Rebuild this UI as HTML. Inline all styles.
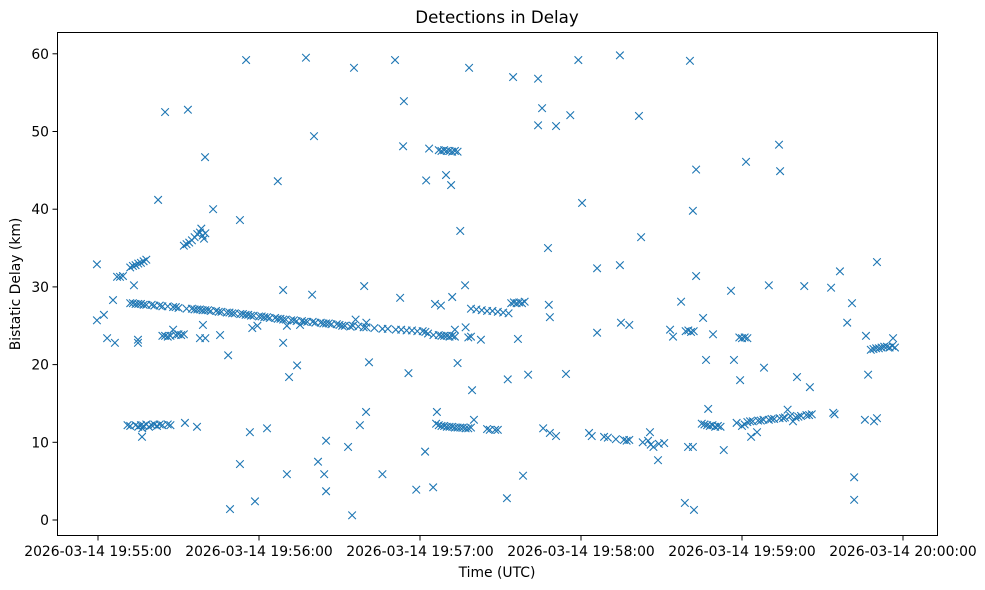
<!DOCTYPE html>
<html><head><meta charset="utf-8"><style>
body{margin:0;background:#fff;}
svg{display:block;font-family:"DejaVu Sans","Liberation Sans",sans-serif;}
</style></head><body>
<svg id="chart" width="985" height="590" xmlns="http://www.w3.org/2000/svg">
<rect x="0" y="0" width="985" height="590" fill="#fff"/>
<text x="497" y="23" text-anchor="middle" font-size="16.7" fill="#000">Detections in Delay</text>
<g id="marks"></g>
<g id="axes"></g>
<rect x="57.5" y="32.5" width="880" height="503" fill="none" stroke="#000" stroke-width="1"/>
<text x="497" y="577" text-anchor="middle" font-size="13.9">Time (UTC)</text>
<text transform="translate(20,284) rotate(-90)" text-anchor="middle" font-size="13.9">Bistatic Delay (km)</text>
</svg>
<script>
// seconds after 2026-03-14 19:55:00
const times = [-0.4,-0.4,2.2,3.4,5.6,6.3,7.1,8.2,9.3,13.4,14.9,14.9,16.4,22.4,25,33.5,32.4,36.9,38,40,39.1,39.9,42.9,45.5,48.5,49.2,52.9,52.9,55.2,56.6,57.5,59.4,58.5,63,67,69,69,70.4,70.4,71.2,74.2,75.3,77.5,79.8,80.5,82,84.3,85,85,93.2,94.7,95.4,97.6,99.2,99.9,101,106,110.7,112.6,114,113.7,115.7,118.6,121.9,122.3,123.4,124.9,125.6,126.3,127.8,129.7,131.6,132,134,135,136.8,138.3,139.4,140.1,142.7,152.4,152.7,154.7,156.5,158.4,160.3,164,164,165.5,165.9,167.7,168.4,168,168.4,170.7,170.7,174.4,176,179,180.4,183,186,186,188.6,194.5,194.5,194.9,198,201.6,202.4,205.7,208.7,213.2,214.3,217.3,218.7,220.6,221.7,222.1,222.9,222.9,219.9,221.7,225.5,226.6,227.4,229.2,233.2,235.9,237,239.3,241.5,243.4,245.6,248.2,250,253.8,254.2,255.3,260.5,263.2,265.3,273.2,276.5,279.2,281,281.8,281.8,286.2,287,285.8,290.3,290.3,289.2,296.3,
12,13,14,15,16,17,18,20,21,23,24,26,28,29,30,33,35,36,37,38,39,40,41,42,44,45,46,48,49,50,51,53,54,55,56,57,58,60,61,62,63,64,66,67,68,69,70,72,73,74,76,77,78,80,81,83,84,85,86,87,89,90,91,92,94,95,97,99,100,103,106,108,111,113,115,117,119,121,122,96,100,
139,141,143,145,147,149,151,153,154,155,156,157,158,159,133,137,
11,12,14,15,16,17,18,19,20,21,22,23,24,26,27,16.5,
12,13,14,15,16,17,18,
32,33,34,35,36,37,38,39,38.5,39.5,40,
24,25,26,27,29,30,31,32,28,
127,128,129,130,131,132,133,134,
126,127,128,129,130,131,132,133,134,135,136,137,138,139,145,146,148,149,
123,125,127,128,129,130,131,132,133,138,139,
184,190,193,196,197,198,203,205,206,207,209,211,
219,220,221,222,
225,226,227,228,229,230,231,232,238,240,241,
239,240,241,242,
242,243,244,246,247,248,250,251,252,254,256,257,258,259,260,261,262,264,265,266,274,274.5,
288,289,290,291,292,293,294,295,296,297];
const delays = [32.9,25.7,26.4,23.4,28.3,22.8,31.3,31.3,31.4,30.2,23.2,22.8,10.7,41.2,52.5,52.8,12.5,12,23.4,23.4,25.1,46.7,40,23.8,21.2,1.4,38.6,7.2,59.2,11.3,24.7,25,2.4,11.8,43.6,29.6,22.8,25,5.9,18.4,19.9,25.1,59.5,29,49.4,7.5,5.9,10.2,3.7,9.4,0.6,58.2,12.2,30.1,13.9,20.3,5.9,59.2,28.6,53.9,48.1,18.9,3.9,8.8,43.7,47.8,4.2,27.8,13.9,27.6,44.4,43.1,28.7,20.2,37.2,30.2,58.2,16.7,12.9,23.2,2.8,18.1,57,23.3,5.7,18.7,50.8,56.8,53,11.8,35,26.1,27.7,11.2,10.8,50.7,18.8,52.1,59.2,40.8,11.2,32.4,24.1,10.7,32.8,59.8,25.4,25.1,52,36.4,11.3,7.7,24.5,23.6,28.1,2.2,59.1,39.8,1.3,45.1,31.4,9.4,9.4,26,20.6,14.3,23.9,9,29.5,20.6,18,46.1,10.7,11.3,19.6,30.2,48.3,44.9,13.1,18.4,30.1,17.1,29.9,32,25.4,27.9,5.5,2.6,23.7,18.7,12.9,33.2,13.1,12.7,23.4,
27.9,27.9,27.8,27.8,27.8,27.7,27.7,27.7,27.6,27.6,27.5,27.5,27.4,27.4,27.3,27.2,27.2,27.1,27.1,27.1,27.0,27.0,27.0,26.9,26.9,26.8,26.8,26.7,26.7,26.6,26.6,26.5,26.5,26.4,26.4,26.3,26.3,26.2,26.2,26.1,26.1,26.0,26.0,25.9,25.9,25.8,25.8,25.7,25.7,25.6,25.6,25.5,25.5,25.5,25.4,25.4,25.3,25.3,25.3,25.2,25.2,25.1,25.0,25.0,24.9,25.0,24.9,24.8,24.8,24.7,24.6,24.6,24.5,24.5,24.4,24.4,24.3,24.3,24.2,25.8,25.4,
27.2,27.1,27.0,26.9,26.9,26.8,26.7,26.6,27.9,28.0,27.9,28.0,27.9,28.1,24.5,24.8,
12.2,12.1,12.2,12.0,12.2,12.1,12.3,12.0,12.2,12.3,12.1,12.3,12.2,12.3,12.2,11.8,
32.5,32.7,32.8,33.0,33.1,33.3,33.5,
35.3,35.5,35.7,36.0,36.4,36.8,37.0,36.6,37.5,36.2,36.9,
23.7,23.7,23.6,23.7,23.8,23.9,23.8,23.9,24.5,
47.6,47.5,47.6,47.5,47.5,47.4,47.5,47.4,
12.4,12.2,12.1,12.1,12.0,12.0,12.0,11.9,11.9,11.9,11.9,11.8,11.8,11.9,11.7,11.6,11.6,11.6,
24.0,23.8,23.8,23.7,23.7,23.7,23.6,23.7,23.6,23.5,23.6,
10.8,10.6,10.4,10.3,10.2,10.3,10.0,10.2,9.7,9.4,9.8,9.9,
24.3,24.4,24.2,24.3,
12.4,12.3,12.2,12.1,12.2,12.0,12.1,12.0,12.5,12.1,12.3,
23.5,23.4,23.5,23.4,
12.6,12.7,12.7,12.8,12.8,12.9,12.9,13.0,13.0,13.1,13.2,14.2,13.4,12.7,13.2,13.3,13.4,13.5,13.5,13.6,13.8,13.6,
21.9,22.0,22.1,22.1,22.2,22.3,22.3,22.2,22.4,22.2];
const xTickSeconds = [0,60,120,180,240,300];
const xTickLabels = ["2026-03-14 19:55:00","2026-03-14 19:56:00","2026-03-14 19:57:00","2026-03-14 19:58:00","2026-03-14 19:59:00","2026-03-14 20:00:00"];
const yTicks = [0,10,20,30,40,50,60];

const NS="http://www.w3.org/2000/svg";
const xScale = s => 98 + s*161/60;
const yScale = v => 520 - v*7.77;
const marks=document.getElementById('marks');
const axes=document.getElementById('axes');
function mk(tag,attrs,parent){const e=document.createElementNS(NS,tag);for(const k in attrs)e.setAttribute(k,attrs[k]);parent.appendChild(e);return e;}
for(let i=0;i<times.length&&i<delays.length;i++){
  const cx=xScale(times[i]), cy=yScale(delays[i]), r=3.8;
  const p=mk('path',{d:`M${cx-r},${cy-r}L${cx+r},${cy+r}M${cx-r},${cy+r}L${cx+r},${cy-r}`,stroke:'#1f77b4','stroke-width':1.1,fill:'none'},marks);
  
  
}
xTickSeconds.forEach((s,i)=>{
  const x=xScale(s);
  const l=mk('line',{x1:x,x2:x,y1:536,y2:540.5,stroke:'#000'},axes);
  
  
  const t=mk('text',{x:x,y:556,'text-anchor':'middle','font-size':13.9},axes);
  t.textContent=xTickLabels[i];
  
  
});
yTicks.forEach(v=>{
  const y=yScale(v);
  const l=mk('line',{x1:52.5,x2:57,y1:y,y2:y,stroke:'#000'},axes);
  
  
  const t=mk('text',{x:49,y:y+5,'text-anchor':'end','font-size':13.9},axes);
  t.textContent=v;
  
  
});
</script>
</body></html>
